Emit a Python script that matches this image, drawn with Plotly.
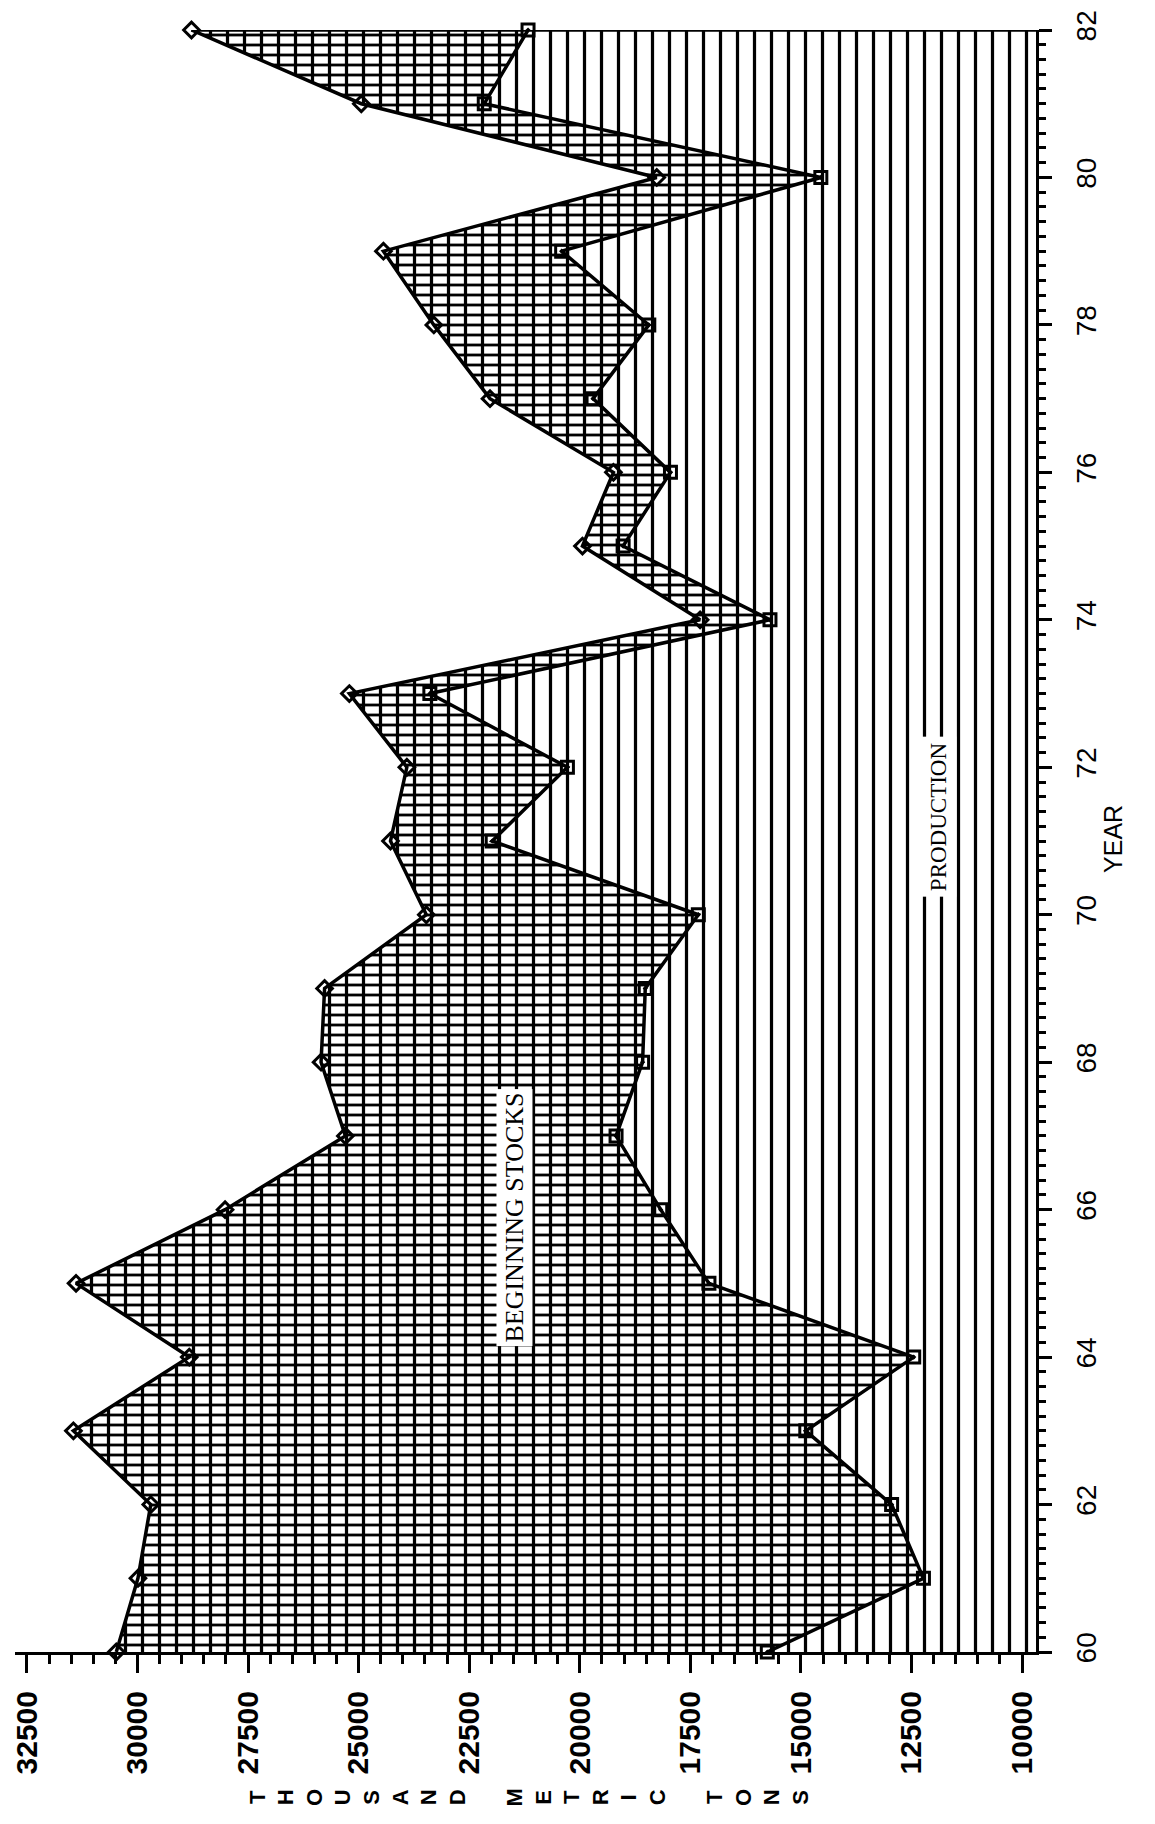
import plotly.graph_objects as go

# ---- data (thousand metric tons) ----
years = list(range(60, 83))
production = [15760, 12230, 12950, 14890, 12450, 17080, 18170, 19180, 18580, 18520,
              17320, 21980, 20280, 23390, 15700, 19020, 17950, 19700, 18440, 20410,
              14550, 22160, 21170]
beginning_stocks = [14720, 17760, 16750, 16560, 16380, 14310, 9850, 6120, 7270, 7250,
                    6150, 2300, 3630, 1820, 1580, 920, 1290, 2330, 4860, 4030,
                    3710, 2780, 7610]
value_ticks = [32500, 30000, 27500, 25000, 22500, 20000, 17500, 15000, 12500, 10000]
year_ticks = [60, 62, 64, 66, 68, 70, 72, 74, 76, 78, 80, 82]

total = [p + s for p, s in zip(production, beginning_stocks)]

X_RANGE = [32770, 9685]   # value axis, reversed (chart is rotated)
Y_RANGE = [60, 82]

fig = go.Figure()

# vertical-line hatching from the total line to the right edge (production area + under stocks)
fig.add_trace(go.Scatter(
    x=total, y=years, mode="none", fill="tozerox",
    fillcolor="rgba(0,0,0,0)",
    fillpattern=dict(shape="|", size=17, solidity=0.19, fgcolor="black", fgopacity=1),
    hoverinfo="skip", showlegend=False))

# production line (fill anchor for the stocks band)
fig.add_trace(go.Scatter(
    x=production, y=years, mode="lines",
    line=dict(color="black", width=3.5),
    showlegend=False))

# beginning stocks on top of production: horizontal hatching between the two lines
fig.add_trace(go.Scatter(
    x=total, y=years, mode="lines", fill="tonextx",
    fillcolor="rgba(0,0,0,0)",
    fillpattern=dict(shape="-", size=10, solidity=0.28, fgcolor="black", fgopacity=1),
    line=dict(color="black", width=3.5),
    showlegend=False))

# markers, not clipped at the axes
fig.add_trace(go.Scatter(
    x=production, y=years, mode="markers", cliponaxis=False,
    marker=dict(symbol="square-open-dot", size=12, color="black", line=dict(width=3)),
    showlegend=False))
fig.add_trace(go.Scatter(
    x=total, y=years, mode="markers", cliponaxis=False,
    marker=dict(symbol="diamond-open", size=12, color="black", line=dict(width=3)),
    showlegend=False))

# closing line at the last year
fig.add_trace(go.Scatter(
    x=[total[-1], X_RANGE[1]], y=[years[-1], years[-1]], mode="lines",
    line=dict(color="black", width=3.5), hoverinfo="skip", showlegend=False))

fig.update_layout(
    width=1147, height=1816,
    margin=dict(l=2, r=119, t=14, b=172),
    paper_bgcolor="white", plot_bgcolor="white",
    showlegend=False,
    xaxis=dict(
        range=X_RANGE, showgrid=False, zeroline=False,
        showline=True, linecolor="black", linewidth=3,
        tickmode="array", tickvals=value_ticks, ticktext=[str(v) for v in value_ticks],
        ticks="outside", ticklen=18, tickwidth=3, tickcolor="black",
        tickangle=-90, ticklabelstandoff=6, ticklabeloverflow="allow",
        tickfont=dict(family="Liberation Sans", size=30, color="black", weight="bold"),
        minor=dict(dtick=500, tick0=10000, ticks="outside", ticklen=9, tickwidth=3,
                   tickcolor="black", showgrid=False),
    ),
    yaxis=dict(
        range=Y_RANGE, side="right", showgrid=False, zeroline=False,
        showline=True, linecolor="black", linewidth=3,
        tickmode="array", tickvals=year_ticks, ticktext=[str(y) for y in year_ticks],
        ticks="outside", ticklen=13, tickwidth=3, tickcolor="black",
        tickangle=-90, ticklabelstandoff=10, ticklabeloverflow="allow",
        tickfont=dict(family="Liberation Sans", size=28, color="black"),
        minor=dict(dtick=0.2, tick0=60, ticks="outside", ticklen=7, tickwidth=2.5,
                   tickcolor="black", showgrid=False),
    ),
)

title_letters = "T<br>H<br>O<br>U<br>S<br>A<br>N<br>D<br> <br>M<br>E<br>T<br>R<br>I<br>C<br> <br>T<br>O<br>N<br>S"

fig.add_annotation(text="YEAR", xref="paper", yref="paper", x=1.076, y=0.501,
                   textangle=-90, showarrow=False, xanchor="center", yanchor="middle",
                   font=dict(family="Liberation Sans", size=25, color="black"))
fig.add_annotation(text=title_letters, xref="paper", yref="paper", x=0.503, y=-0.09,
                   textangle=-90, showarrow=False, xanchor="center", yanchor="middle",
                   font=dict(family="Liberation Sans", size=22, color="black", weight="bold"))
fig.add_annotation(text="BEGINNING STOCKS", xref="paper", yref="paper", x=0.489, y=0.268,
                   textangle=-90, showarrow=False, xanchor="center", yanchor="middle",
                   bgcolor="white", borderpad=3,
                   font=dict(family="Liberation Serif", size=26, color="black"))
fig.add_annotation(text="PRODUCTION", xref="paper", yref="paper", x=0.9045, y=0.515,
                   textangle=-90, showarrow=False, xanchor="center", yanchor="middle",
                   bgcolor="white", borderpad=5,
                   font=dict(family="Liberation Serif", size=23, color="black"))

fig.write_html("out.html")
